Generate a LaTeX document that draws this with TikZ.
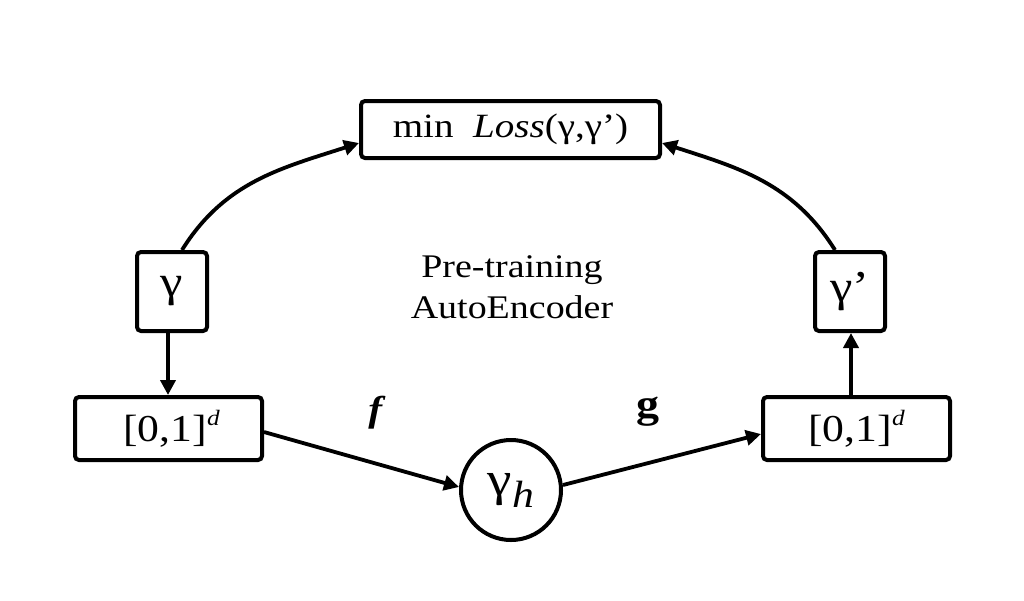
\documentclass[tikz,border=0pt]{standalone}
\usepackage{fontspec}
\setmainfont{Liberation Serif}[FakeStretch=1.15]
\usetikzlibrary{arrows.meta}
\begin{document}
\begin{tikzpicture}[x=1pt,y=-1pt,
  box/.style={draw,line width=4pt,rounded corners=4pt,inner sep=0pt,font=\fontsize{34}{38}\selectfont},
  conn/.style={line width=3.8pt,-{Triangle[length=15pt,width=15pt]}},
  lbl/.style={font=\fontsize{33}{41}\selectfont}]
\useasboundingbox (0,0) rectangle (1024,600);
\node[box,minimum width=299pt,minimum height=57pt] (loss) at (510.5,129.5) {min\ \ \textit{Loss}(γ,γ’)};
\node[box,minimum width=70pt,minimum height=79pt,font=\fontsize{44}{48}\selectfont] (g1) at (172,291.5) {γ};
\node[box,minimum width=70pt,minimum height=79pt,font=\fontsize{44}{48}\selectfont] (g2) at (850,291.5) {γ’};
\node[box,minimum width=187pt,minimum height=63pt,font=\fontsize{38}{42}\selectfont] (b1) at (168.5,428.5) {\hspace{6pt}[0,1]\raisebox{0.42em}{\fontsize{22}{24}\selectfont\textit{d}}};
\node[box,minimum width=187pt,minimum height=63pt,font=\fontsize{38}{42}\selectfont] (b2) at (856.5,428.5) {[0,1]\raisebox{0.42em}{\fontsize{22}{24}\selectfont\textit{d}}};
\node[draw,line width=4pt,circle,minimum size=100pt,inner sep=0pt,font=\fontsize{48}{52}\selectfont] (h) at (511,490) {γ\raisebox{-0.25em}{\fontsize{38}{40}\selectfont\textit{h}}};
\node[lbl,align=center] (pt) at (512,287) {Pre-training\\AutoEncoder};
\node[lbl,font=\fontsize{36}{40}\selectfont] (f) at (377,413) {\textbf{\textit{f}}};
\node[lbl,font=\fontsize{40}{44}\selectfont] (g) at (648,412) {\textbf{g}};
\coordinate (a1) at (182,250);
\coordinate (a2) at (835,250);
\coordinate (c1) at (168,333);
\coordinate (c2) at (851,397);
\draw[conn] (a1) to[out=58,in=198] (loss.west |- 0,143);
\draw[conn] (a2) to[out=122,in=-18] (loss.east |- 0,143);
\draw[conn] (c1) -- (b1.north -| c1);
\draw[conn] (c2) -- (g2.south -| c2);
\draw[conn] (b1.east |- 0,432) -- (h.west |- 0,487);
\draw[conn] (h.east |- 0,485) -- (b2.west |- 0,434);
\end{tikzpicture}
\end{document}
